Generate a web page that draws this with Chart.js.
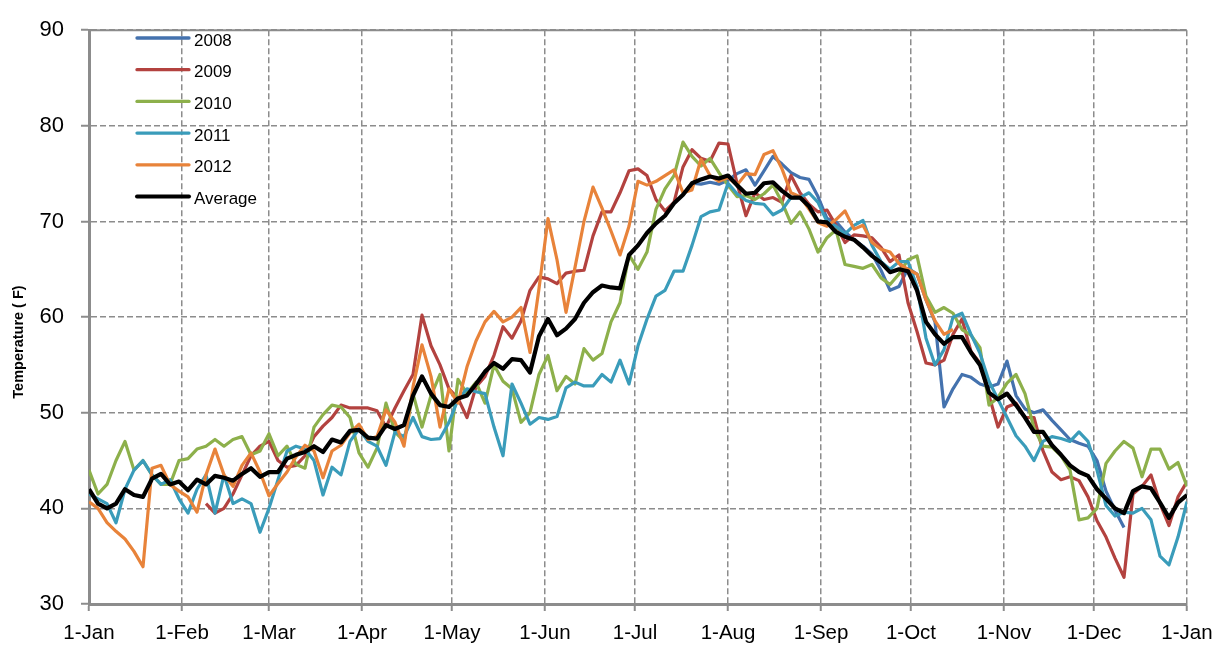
<!DOCTYPE html>
<html>
<head>
<meta charset="utf-8">
<title>Daily temperature</title>
<script src="https://cdn.jsdelivr.net/npm/chart.js@4.4.1/dist/chart.umd.min.js"></script>
<style>
  html, body { margin: 0; padding: 0; background: #ffffff; }
  #wrap { width: 1223px; height: 646px; }
</style>
</head>
<body>
<div id="wrap"><canvas id="c" width="1223" height="646"></canvas></div>
<script>
// Sample days (day of a leap year, 0 = 1-Jan, 366 = the following 1-Jan)
const days = [
  0, 3, 6, 9, 12, 15, 18, 21, 24, 27,
  30, 33, 36, 39, 42, 45, 48, 51, 54, 57,
  60, 63, 66, 69, 72, 75, 78, 81, 84, 87,
  90, 93, 96, 99, 102, 105, 108, 111, 114, 117,
  120, 123, 126, 129, 132, 135, 138, 141, 144, 147,
  150, 153, 156, 159, 162, 165, 168, 171, 174, 177,
  180, 183, 186, 189, 192, 195, 198, 201, 204, 207,
  210, 213, 216, 219, 222, 225, 228, 231, 234, 237,
  240, 243, 246, 249, 252, 255, 258, 261, 264, 267,
  270, 273, 276, 279, 282, 285, 288, 291, 294, 297,
  300, 303, 306, 309, 312, 315, 318, 321, 324, 327,
  330, 333, 336, 339, 342, 345, 348, 351, 354, 357,
  360, 363, 366
];

// Month boundaries and their labels
const monthTickDays = [0, 31, 60, 91, 121, 152, 182, 213, 244, 274, 305, 335, 366];
const monthTickLabels = ['1-Jan', '1-Feb', '1-Mar', '1-Apr', '1-May', '1-Jun', '1-Jul',
                         '1-Aug', '1-Sep', '1-Oct', '1-Nov', '1-Dec', '1-Jan'];
const tempTicks = [30, 40, 50, 60, 70, 80, 90];

const seriesNames = ['2008', '2009', '2010', '2011', '2012', 'Average'];
const seriesColors = ['#4472AE', '#B3423F', '#8DB04B', '#3A9CBA', '#E8833A', '#000000'];

// Daily temperatures (F); null where a year has no reading
const t2008 = [
  null, null, null, null, null, null, null, null, null, null,
  null, null, null, null, null, null, null, null, null, null,
  null, null, null, null, null, null, null, null, null, null,
  null, null, null, null, null, null, null, null, null, null,
  null, null, null, null, null, null, null, null, null, null,
  null, null, null, null, null, null, null, null, null, null,
  null, null, null, null, null, null, null, 74, 73.9, 74.1,
  73.9, 74.3, 75, 75.4, 73.8, 75.3, 76.8, 76, 75.1, 74.6,
  74.4, 72.6, 70.3, 70, 68.9, 68.1, 67.4, 66.6, 64.9, 62.8,
  63.2, 65.1, 64.5, 61.8, 59.5, 50.6, 52.5, 54, 53.7, 53,
  52.7, 53, 55.4, 51.8, 50.4, 50, 50.3, 49.2, 48.2, 47.2,
  46.8, 46.5, 45, 41.8, 39.8, 38, null, null, null, null,
  null, null, null
];

const t2009 = [
  null, null, null, null, null, null, null, null, null, null,
  null, null, null, 40.5, 39.5, 40, 41.5, 43.5, 45.5, 46.5,
  47, 45, 44.3, 44.5, 45.5, 47.5, 48.6, 49.5, 50.8, 50.5,
  50.5, 50.5, 50.2, 48.5, 50.5, 52.3, 54, 60.2, 57, 55,
  52.5, 51.5, 49.5, 52.7, 53.8, 56, 59, 57.8, 59.6, 62.8,
  64.2, 64, 63.5, 64.6, 64.8, 64.9, 68.5, 71, 71, 73,
  75.3, 75.5, 74.8, 72.3, 71.1, 72, 75.7, 77.5, 76.6, 76.3,
  78.2, 78.1, 74, 70.6, 73, 72.3, 72.5, 72, 74.8, 73,
  71.8, 71, 71.2, 69.6, 67.8, 68.6, 68.5, 68.3, 67.3, 65.8,
  66.5, 61.5, 58.5, 55.2, 55, 55.5, 58.2, 59.8, 56.4, 55.2,
  51.8, 48.5, 50.6, 51, 49.5, 49.5, 46, 43.8, 43, 43.3,
  42.9, 41.2, 38.7, 37, 34.8, 32.8, 41.5, 42.3, 43.5, 40.5,
  38.2, 41.2, 42.8
];

const t2010 = [
  44, 41.5, 42.5, 45, 47, 44, 45, 43.5, 42.5, 42.5,
  45, 45.2, 46.2, 46.5, 47.2, 46.5, 47.2, 47.5, 45.6, 46,
  47.8, 45.5, 46.5, 44.6, 44.2, 48.5, 49.8, 50.8, 50.6, 49.5,
  45.8, 44.3, 46.3, 51, 48, 47, 52, 48.5, 51.8, 54,
  46, 53.5, 52, 53.2, 51, 55, 53.3, 52.5, 49, 50,
  54, 56, 52.3, 53.8, 53, 56.7, 55.5, 56.2, 59.5, 61.5,
  66.5, 65, 66.8, 71.3, 73.4, 74.8, 78.3, 76.8, 75.8, 76.6,
  75.1, 73.8, 72.6, 72.7, 72.3, 72.9, 73.8, 72, 69.8, 71,
  69.2, 66.8, 68.3, 69.1, 65.5, 65.3, 65.1, 65.5, 64.1, 63.4,
  64.5, 66, 66.4, 62.2, 60.5, 61, 60.4, 58.7, 58.1, 56.8,
  50.8, 51.6, 53.1, 54, 52, 48.4, 46.5, 46.4, 45.5, 44,
  38.8, 39, 40, 44.7, 46, 47, 46.3, 43.3, 46.2, 46.2,
  44.1, 44.8, 42.3
];

const t2011 = [
  41.5, 41, 40.5, 38.5, 42, 44, 45, 43.5, 42.5, 43,
  41, 39.5, 42, 43.5, 39.5, 43.5, 40.5, 41, 40.5, 37.5,
  40, 43, 46, 46.5, 46.2, 45, 41.4, 44.3, 43.5, 47,
  48.3, 47, 46.5, 44.5, 48, 47.5, 49.5, 47.5, 47.2, 47.3,
  49, 51.4, 52.5, 52.2, 52, 48.5, 45.5, 53, 51, 48.8,
  49.5, 49.3, 49.6, 52.6, 53.2, 52.8, 52.8, 54, 53.2, 55.5,
  53, 57, 59.8, 62.2, 62.8, 64.8, 64.8, 67.5, 70.5, 71,
  71.2, 74, 72.9, 72.2, 71.9, 71.8, 70.7, 71.2, 72.5, 72.5,
  73, 72, 70, 69.5, 68.7, 69.6, 70.1, 67.5, 65.8, 65,
  65.8, 65.8, 63.2, 57.8, 55, 56.6, 60, 60.4, 58.2, 56.2,
  53.3, 51.4, 49.5, 47.6, 46.5, 45, 47, 47.5, 47.3, 47,
  48, 47, 44, 40.3, 39.2, 39.6, 39.5, 40, 38.8, 35,
  34.1, 37, 40.7
];

const t2012 = [
  40.7, 40, 38.5, 37.6, 36.8, 35.5, 33.9, 44.2, 44.5, 42.5,
  41.8, 41.2, 39.6, 43.5, 46.2, 43.5, 42.3, 44.5, 45.8, 43.8,
  41.3, 42.6, 43.8, 45.4, 46.6, 46, 43.2, 46, 46.6, 47.9,
  48.8, 47.2, 47.5, 50.3, 49, 46.5, 52.7, 57.1, 53.8, 48.5,
  52.5, 51, 54.8, 57.5, 59.5, 60.6, 59.5, 60, 61, 56.3,
  63, 70.3, 66, 60.5, 65.2, 70, 73.6, 71.4, 69, 66.5,
  69.5, 74.2, 73.8, 74.2, 74.8, 75.4, 73, 73.3, 76.5, 74.8,
  74.2, 74.6, 73.8, 75, 74.9, 77, 77.4, 75.5, 73, 72.6,
  71.3, 69.9, 69.5, 70.2, 71.1, 69.2, 69.6, 67.8, 67.1, 66.8,
  65.6, 65, 64.5, 61.8, 59.6, 58.2, 58.7, null, null, null,
  null, null, null, null, null, null, null, null, null, null,
  null, null, null, null, null, null, null, null, null, null,
  null, null, null
];

const tAverage = [
  42, 40.5, 40, 40.5, 42, 41.4, 41.2, 43.1, 43.6, 42.5,
  42.8, 41.9, 43, 42.5, 43.4, 43.2, 42.9, 43.6, 44.2, 43.3,
  43.8, 43.8, 45.2, 45.6, 45.9, 46.5, 45.9, 47.2, 46.9, 48.1,
  48.2, 47.4, 47.3, 48.7, 48.3, 48.7, 51.8, 53.8, 52, 50.8,
  50.6, 51.5, 51.8, 53, 54.3, 55.2, 54.6, 55.6, 55.5, 54.2,
  58, 59.8, 58.1, 58.8, 59.8, 61.5, 62.6, 63.3, 63.1, 63,
  66.5, 67.5, 68.8, 69.8, 70.6, 71.9, 72.8, 74, 74.4, 74.7,
  74.5, 74.8, 73.8, 72.9, 73, 74, 74.1, 73.2, 72.5, 72.5,
  71.6, 70, 69.9, 68.9, 68.4, 68.1, 67.3, 66.4, 65.7, 64.7,
  65, 64.8, 62.8, 59.5, 58.2, 57.2, 57.9, 57.9, 56.3, 55,
  52.1, 51.4, 52, 50.8, 49.5, 48, 48, 46.6, 45.6, 44.5,
  43.8, 43.4, 42, 41, 40, 39.5, 41.8, 42.3, 42.1, 40.6,
  39, 40.6, 41.4
];

const FONT = "'Liberation Sans', Arial, Helvetica, sans-serif";
const GRID_GREY = '#8c8c8c';

const seriesValues = [t2008, t2009, t2010, t2011, t2012, tAverage];
seriesValues.forEach((vals, k) => {
  if (vals.length !== days.length) {
    throw new Error('series ' + seriesNames[k] + ' has ' + vals.length + ' values, expected ' + days.length);
  }
});

// Pair each reading with its day, skipping days without data
function toPoints(vals) {
  const pts = [];
  vals.forEach((v, i) => { if (v !== null) pts.push({ x: days[i], y: v }); });
  return pts;
}

// Later years sit above earlier ones, the average line above everything
const drawOrder = [5, 4, 3, 2, 1, 0];
const datasets = seriesValues.map((vals, k) => ({
  label: seriesNames[k],
  data: toPoints(vals),
  borderColor: seriesColors[k],
  backgroundColor: seriesColors[k],
  borderWidth: seriesNames[k] === 'Average' ? 4.2 : 3.2,
  borderJoinStyle: 'round',
  pointRadius: 0,
  fill: false,
  tension: 0,
  order: drawOrder[k]
}));

// Key in the upper-left of the plot, the solid top frame and the rotated axis caption
const decorations = {
  id: 'decorations',
  afterDraw(chart) {
    const { ctx, chartArea } = chart;
    ctx.save();

    ctx.strokeStyle = GRID_GREY;
    ctx.lineWidth = 2;
    ctx.beginPath();
    ctx.moveTo(chartArea.left, chartArea.top);
    ctx.lineTo(chartArea.right, chartArea.top);
    ctx.stroke();

    ctx.font = '17px ' + FONT;
    ctx.textAlign = 'left';
    ctx.textBaseline = 'middle';
    ctx.lineCap = 'round';
    chart.data.datasets.forEach((ds, i) => {
      const y = 38 + i * 31.7;
      ctx.strokeStyle = ds.borderColor;
      ctx.lineWidth = ds.label === 'Average' ? 4 : 3.3;
      ctx.beginPath();
      ctx.moveTo(137, y);
      ctx.lineTo(189, y);
      ctx.stroke();
      ctx.fillStyle = '#000000';
      ctx.fillText(ds.label, 194, y + 3);
    });

    ctx.translate(23, 342);
    ctx.rotate(-Math.PI / 2);
    ctx.font = 'bold 14.5px ' + FONT;
    ctx.textAlign = 'center';
    ctx.textBaseline = 'alphabetic';
    ctx.fillStyle = '#000000';
    ctx.fillText('Temperature ( F)', 0, 0);
    ctx.restore();
  }
};

new Chart(document.getElementById('c'), {
  type: 'line',
  data: { datasets },
  options: {
    responsive: false,
    animation: false,
    events: [],
    layout: { padding: { top: 18, right: 36, bottom: 0, left: 0 } },
    plugins: {
      legend: { display: false },
      tooltip: { enabled: false },
      title: { display: false }
    },
    scales: {
      x: {
        type: 'linear',
        min: 0,
        max: 366,
        afterBuildTicks: (scale) => { scale.ticks = monthTickDays.map(v => ({ value: v })); },
        afterFit: (scale) => { scale.height = 42; },
        ticks: {
          autoSkip: false,
          maxRotation: 0,
          minRotation: 0,
          padding: 10,
          color: '#000000',
          font: { family: FONT, size: 20.5 },
          callback: (value) => {
            const i = monthTickDays.indexOf(value);
            return i < 0 ? '' : monthTickLabels[i];
          }
        },
        grid: {
          color: GRID_GREY,
          lineWidth: 1.5,
          drawTicks: true,
          tickLength: 7,
          tickColor: GRID_GREY,
          tickWidth: 2
        },
        border: { display: true, color: GRID_GREY, width: 3, dash: [6, 3] }
      },
      y: {
        type: 'linear',
        min: 30,
        max: 90,
        afterBuildTicks: (scale) => { scale.ticks = tempTicks.map(v => ({ value: v })); },
        afterFit: (scale) => { scale.width = 89; },
        ticks: {
          padding: 17,
          color: '#000000',
          font: { family: FONT, size: 22 }
        },
        grid: {
          color: GRID_GREY,
          lineWidth: 1.5,
          drawTicks: true,
          tickLength: 8,
          tickColor: GRID_GREY,
          tickWidth: 2
        },
        border: { display: true, color: GRID_GREY, width: 3, dash: [6, 3] }
      }
    }
  },
  plugins: [decorations]
});
</script>
</body>
</html>
